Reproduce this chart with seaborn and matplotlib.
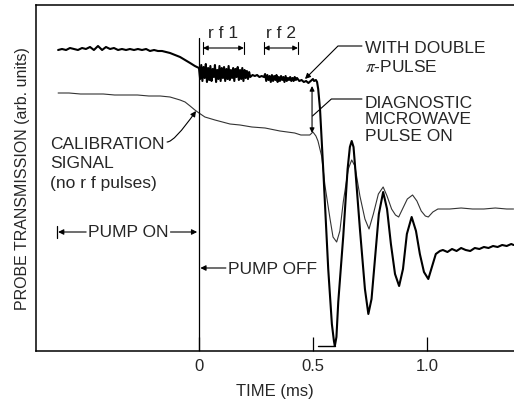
import matplotlib
matplotlib.use("Agg")
import matplotlib.pyplot as plt
import seaborn as sns

# trace with the double pi-pulse (thick)
pulse_t = [-0.618, -0.601, -0.583, -0.566, -0.548, -0.531, -0.513, -0.496, -0.478, -0.461,
           -0.443, -0.425, -0.408, -0.390, -0.373, -0.355, -0.338, -0.320, -0.303, -0.285,
           -0.268, -0.250, -0.232, -0.215, -0.197, -0.180, -0.162, -0.145, -0.127, -0.105,
           -0.083, -0.061, -0.039, -0.018,
           0.000, 0.005, 0.010, 0.015, 0.020, 0.025, 0.030, 0.035, 0.040, 0.045,
           0.050, 0.055, 0.060, 0.065, 0.070, 0.075, 0.080, 0.085, 0.090, 0.095,
           0.100, 0.105, 0.110, 0.115, 0.120, 0.125, 0.130, 0.135, 0.140, 0.145,
           0.150, 0.155, 0.160, 0.165, 0.170, 0.175, 0.180, 0.185, 0.190, 0.195,
           0.200, 0.205, 0.210, 0.215, 0.220, 0.225,
           0.235, 0.245, 0.255, 0.265, 0.275, 0.285,
           0.290, 0.295, 0.300, 0.305, 0.310, 0.315, 0.320, 0.325, 0.330, 0.335,
           0.340, 0.345, 0.350, 0.355, 0.360, 0.365, 0.370, 0.375, 0.380, 0.385,
           0.390, 0.395, 0.400, 0.405, 0.410, 0.415, 0.420, 0.425, 0.430,
           0.440, 0.450, 0.460, 0.470, 0.480, 0.490, 0.500, 0.505, 0.513, 0.518,
           0.523, 0.531, 0.545, 0.567, 0.583, 0.592, 0.596, 0.603, 0.611, 0.633,
           0.652, 0.662, 0.670, 0.678, 0.684, 0.706, 0.728, 0.743, 0.757, 0.772,
           0.789, 0.808, 0.825, 0.842, 0.860, 0.878, 0.895, 0.912, 0.933, 0.952,
           0.969, 0.987, 1.006, 1.022, 1.039, 1.057,
           1.07, 1.09, 1.11, 1.13, 1.15, 1.17, 1.19, 1.21, 1.23, 1.25,
           1.27, 1.29, 1.31, 1.33, 1.35, 1.37, 1.38]
pulse_y = [301, 302, 301, 303, 302, 301, 303, 302, 304, 301,
           305, 301, 304, 302, 303, 301, 302, 301, 302, 301,
           302, 301, 302, 300, 301, 300, 300, 299, 298, 296,
           294, 291, 288, 285,
           283, 272, 286, 270, 284, 273, 287, 269, 283, 271,
           285, 270, 282, 274, 286, 269, 281, 272, 285, 270,
           283, 273, 284, 270, 282, 272, 285, 271, 281, 273,
           283, 270, 282, 274, 284, 271, 281, 272, 283, 270,
           281, 273, 280, 272, 279, 274,
           276, 275, 276, 274, 275, 274,
           277, 270, 276, 271, 275, 269, 276, 270, 275, 271,
           276, 269, 274, 270, 275, 271, 274, 269, 275, 270,
           273, 271, 274, 270, 273, 270, 274, 271, 273,
           270, 271, 269, 270, 268, 270, 272, 270, 271, 269,
           262, 242, 182, 82, 27, 10, 5, 14, 49, 115,
           182, 204, 210, 204, 187, 122, 62, 37, 52, 92,
           137, 159, 142, 107, 77, 65, 82, 117, 134, 120,
           97, 79, 72, 84, 97, 100,
           101, 99, 102, 100, 103, 101, 100, 103, 102, 104,
           103, 105, 104, 106, 105, 107, 106]

# calibration signal, no rf pulses (thin)
calib_t = [-0.618, -0.57, -0.52, -0.47, -0.42, -0.37, -0.32, -0.27, -0.22, -0.17,
           -0.127, -0.083, -0.061, -0.039, -0.018, 0.000, 0.026, 0.070, 0.136, 0.18,
           0.232, 0.29, 0.355, 0.42, 0.447, 0.486, 0.500, 0.513, 0.522, 0.538,
           0.553, 0.575, 0.588, 0.604, 0.618, 0.633, 0.655, 0.670, 0.684, 0.706,
           0.728, 0.746, 0.765, 0.787, 0.808, 0.825, 0.845, 0.862, 0.876, 0.895,
           0.914, 0.937, 0.956, 0.975, 0.993, 1.006, 1.026, 1.048, 1.10, 1.15,
           1.20, 1.25, 1.30, 1.35, 1.38]
calib_y = [258, 258, 257, 257, 257, 256, 256, 256, 255, 255,
           254, 251, 249, 245, 241, 238, 234, 231, 227, 226,
           224, 223, 220, 218, 216, 216, 219, 215, 210, 195,
           165, 132, 114, 109, 120, 149, 182, 191, 185, 155,
           132, 122, 137, 157, 164, 155, 142, 136, 134, 143,
           152, 156, 150, 140, 135, 134, 139, 142, 142, 143,
           142, 142, 143, 142, 142]

# short clipped segment at the bottom of the first dip
floor_t = [0.522, 0.596]
floor_y = [5, 5]

xtick_vals = [0, 0.5, 1.0]
xtick_text = ["0", "0.5", "1.0"]

sns.set_theme(style="white")
plt.rcParams["font.family"] = ["Liberation Sans", "DejaVu Sans"]
plt.rcParams["mathtext.fontset"] = "stix"

fig = plt.figure(figsize=(5.14, 4.02), dpi=100)
ax = fig.add_axes([36 / 514, 50 / 402, 478 / 514, 346 / 402])

sns.lineplot(x=calib_t, y=calib_y, ax=ax, color="#333333", lw=0.8, sort=False)
sns.lineplot(x=pulse_t, y=pulse_y, ax=ax, color="black", lw=1.5, sort=False)
sns.lineplot(x=floor_t, y=floor_y, ax=ax, color="black", lw=1.0, sort=False)

ax.set_xlim(-0.715, 1.382)
ax.set_ylim(0, 346)

# pump off marker
ax.plot([0, 0], [0, 313], color="black", lw=0.9)

for s in ["left", "bottom", "top"]:
    ax.spines[s].set_color("black")
    ax.spines[s].set_linewidth(1.1)
ax.spines["right"].set_visible(False)

ax.set_xticks(xtick_vals)
ax.set_xticklabels(xtick_text, fontsize=12)
ax.set_yticks([])
ax.tick_params(axis="x", direction="in", length=10, width=0.9, color="black",
               pad=5, bottom=True)
ax.set_xlabel("TIME (ms)", fontsize=12, labelpad=7)
ax.set_ylabel("PROBE TRANSMISSION (arb. units)", fontsize=11.5, labelpad=4)

fs = 12.5
arrow_kw = dict(arrowstyle="-|>", color="black", lw=0.8, mutation_scale=8,
                shrinkA=0, shrinkB=0)

# rf brackets
for left, right, label in [(0.018, 0.197, "r f 1"), (0.285, 0.434, "r f 2")]:
    ax.annotate("", xy=(right, 303), xytext=(left, 303),
                arrowprops=dict(arrowstyle="<|-|>", color="black", lw=0.8,
                                mutation_scale=7, shrinkA=0, shrinkB=0))
    ax.plot([left, left], [297, 309], color="black", lw=0.8)
    ax.plot([right, right], [297, 309], color="black", lw=0.8)
    ax.text((left + right) / 2, 318, label, fontsize=fs, ha="center", va="center")

# labels on the traces
ax.text(0.728, 294, "WITH DOUBLE\n$\\pi$-PULSE", fontsize=fs, ha="left",
        va="center", linespacing=1.2)
ax.annotate("", xy=(0.465, 272), xytext=(0.715, 305),
            arrowprops=dict(arrow_kw, connectionstyle="angle,angleA=0,angleB=45,rad=0"))

ax.text(0.728, 232, "DIAGNOSTIC\nMICROWAVE\nPULSE ON", fontsize=fs, ha="left",
        va="center", linespacing=1.1)
ax.annotate("", xy=(0.498, 235), xytext=(0.715, 252),
            arrowprops=dict(arrowstyle="-", color="black", lw=0.8, shrinkA=0, shrinkB=0,
                            connectionstyle="angle,angleA=0,angleB=42,rad=0"))
ax.annotate("", xy=(0.496, 218), xytext=(0.496, 265),
            arrowprops=dict(arrowstyle="<|-|>", color="black", lw=0.8,
                            mutation_scale=7, shrinkA=0, shrinkB=0))

ax.text(-0.654, 188, "CALIBRATION\nSIGNAL\n(no r f pulses)", fontsize=fs,
        ha="left", va="center", linespacing=1.35)
ax.annotate("", xy=(-0.013, 240), xytext=(-0.14, 209),
            arrowprops=dict(arrow_kw, connectionstyle="angle3,angleA=0,angleB=55"))

# pump on / pump off
ax.text(-0.311, 119, "PUMP ON", fontsize=fs, ha="center", va="center")
ax.annotate("", xy=(-0.618, 119), xytext=(-0.495, 119), arrowprops=arrow_kw)
ax.plot([-0.623, -0.623], [113, 125], color="black", lw=0.9)
ax.annotate("", xy=(-0.008, 119), xytext=(-0.125, 119), arrowprops=arrow_kw)

ax.text(0.127, 83, "PUMP OFF", fontsize=fs, ha="left", va="center")
ax.annotate("", xy=(0.006, 83), xytext=(0.118, 83), arrowprops=arrow_kw)

fig.savefig("out.png", dpi=100)
